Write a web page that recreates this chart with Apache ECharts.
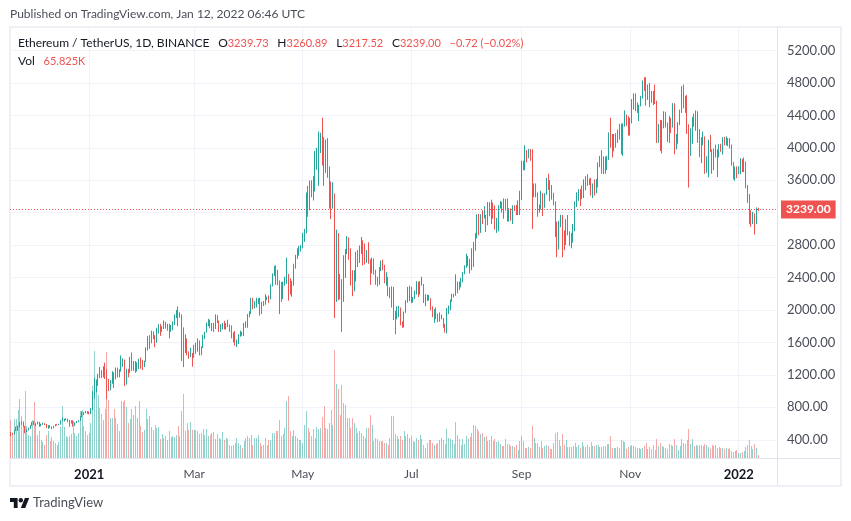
<!DOCTYPE html>
<html>
<head>
<meta charset="utf-8">
<title>ETHUSDT</title>
<script src="https://cdn.jsdelivr.net/npm/echarts@6/dist/echarts.min.js"></script>
<style>
html, body { margin: 0; padding: 0; background: #fff; }
#chart { width: 851px; height: 521px; }
</style>
</head>
<body>
<div id="chart"></div>
<script>
// daily candles, 18 Nov 2020 to 12 Jan 2022, one line per month
var opens = [
    479,472,471,509,549,558,609,604,566,517,518,537,575,
    616,588,598,616,569,596,601,591,555,573,559,545,568,590,586,589,636,642,654,659,639,609,634,584,612,626,635,682,731,731,751,
    737,729,774,975,1040,1100,1208,1225,1224,1281,1262,1090,1043,1130,1218,1171,1233,1230,1257,1377,1382,1120,1235,1233,1391,1324,1357,1248,1332,1382,1378,
    1312,1369,1515,1660,1594,1719,1677,1614,1750,1769,1743,1784,1843,1813,1782,1781,1783,1846,1937,1960,1919,1935,1780,1570,1626,1475,1446,1459,
    1417,1565,1492,1575,1541,1533,1654,1723,1835,1868,1799,1826,1772,1924,1854,1791,1806,1823,1782,1811,1806,1782,1668,1668,1582,1586,1699,1716,1691,1819,1846,
    1919,1977,2143,2028,2093,2107,2112,1963,2085,2071,2135,2157,2139,2299,2432,2514,2422,2355,2236,2161,2336,2364,2397,2364,2210,2316,2534,2662,2746,2756,
    2772,2945,2950,3431,3240,3523,3490,3484,3902,3928,3952,4168,3815,3720,4079,3640,3585,3276,3384,2460,2775,2430,2295,2100,2640,2708,2887,2737,2414,2280,2389,
    2706,2634,2706,2855,2687,2626,2715,2590,2514,2610,2474,2354,2372,2509,2590,2550,2365,2374,2225,2162,2245,1888,1875,1970,1990,1830,1815,1975,2085,2160,
    2275,2110,2150,2225,2325,2200,2324,2315,2115,2150,2137,2140,2035,1940,1995,1912,1875,1895,1895,1786,1724,1992,2027,2123,2188,2190,2222,2300,2297,2380,2462,
    2536,2558,2609,2506,2725,2827,2890,3157,3012,3163,3140,3164,3045,3322,3265,3310,3147,3012,3017,3286,3322,3243,3320,3223,3173,3226,3147,3275,3245,3225,3229,
    3433,3835,3788,3940,3887,3955,3950,3430,3496,3427,3209,3265,3410,3285,3430,3613,3570,3398,3432,3331,2977,2750,3078,3155,2928,2925,3063,2930,2805,2849,
    3000,3309,3390,3417,3380,3515,3577,3587,3560,3575,3415,3545,3497,3603,3790,3867,3830,3847,3745,3877,4155,4055,3970,4170,4080,4217,4130,3922,4285,4417,4322,
    4288,4320,4585,4600,4530,4474,4518,4610,4810,4730,4630,4720,4667,4648,4625,4570,4210,4285,3960,4290,4410,4267,4085,4340,4270,4520,4040,4095,4295,4445,
    4632,4585,4510,4240,4100,4200,4355,4310,4430,4110,3890,4085,4135,3785,3860,4020,3960,3880,3960,3925,3940,4020,3980,4110,4045,4095,4065,4035,3795,3630,3712,
    3680,3765,3830,3760,3785,3535,3410,3195,3105,3155,3085,3239.73
];
var closes = [
    472,471,509,549,558,609,604,566,517,518,537,575,616,
    588,598,616,569,596,601,591,555,573,559,545,568,590,586,589,636,642,654,659,639,609,634,584,612,626,635,682,731,731,751,737,
    729,774,975,1040,1100,1208,1225,1224,1281,1262,1090,1043,1130,1218,1171,1233,1230,1257,1377,1382,1120,1235,1233,1391,1324,1357,1248,1332,1382,1378,1312,
    1369,1515,1660,1594,1719,1677,1614,1750,1769,1743,1784,1843,1813,1782,1781,1783,1846,1937,1960,1919,1935,1780,1570,1626,1475,1446,1459,1417,
    1565,1492,1575,1541,1533,1654,1723,1835,1868,1799,1826,1772,1924,1854,1791,1806,1823,1782,1811,1806,1782,1668,1668,1582,1586,1699,1716,1691,1819,1846,1919,
    1977,2143,2028,2093,2107,2112,1963,2085,2071,2135,2157,2139,2299,2432,2514,2422,2355,2236,2161,2336,2364,2397,2364,2210,2316,2534,2662,2746,2756,2772,
    2945,2950,3431,3240,3523,3490,3484,3902,3928,3952,4168,3815,3720,4079,3640,3585,3276,3384,2460,2775,2430,2295,2100,2640,2708,2887,2737,2414,2280,2389,2706,
    2634,2706,2855,2687,2626,2715,2590,2514,2610,2474,2354,2372,2509,2590,2550,2365,2374,2225,2162,2245,1888,1875,1970,1990,1830,1815,1975,2085,2160,2275,
    2110,2150,2225,2325,2200,2324,2315,2115,2150,2137,2140,2035,1940,1995,1912,1875,1895,1895,1786,1724,1992,2027,2123,2188,2190,2222,2300,2297,2380,2462,2536,
    2558,2609,2506,2725,2827,2890,3157,3012,3163,3140,3164,3045,3322,3265,3310,3147,3012,3017,3286,3322,3243,3320,3223,3173,3226,3147,3275,3245,3225,3229,3433,
    3835,3788,3940,3887,3955,3950,3430,3496,3427,3209,3265,3410,3285,3430,3613,3570,3398,3432,3331,2977,2750,3078,3155,2928,2925,3063,2930,2805,2849,3000,
    3309,3390,3417,3380,3515,3577,3587,3560,3575,3415,3545,3497,3603,3790,3867,3830,3847,3745,3877,4155,4055,3970,4170,4080,4217,4130,3922,4285,4417,4322,4288,
    4320,4585,4600,4530,4474,4518,4610,4810,4730,4630,4720,4667,4648,4625,4570,4210,4285,3960,4290,4410,4267,4085,4340,4270,4520,4040,4095,4295,4445,4632,
    4585,4510,4240,4100,4200,4355,4310,4430,4110,3890,4085,4135,3785,3860,4020,3960,3880,3960,3925,3940,4020,3980,4110,4045,4095,4065,4035,3795,3630,3712,3680,
    3765,3830,3760,3785,3535,3410,3195,3105,3155,3085,3239.73,3239
];
var lows = [
    444,455,468,505,510,553,585,558,480,495,515,535,570,
    580,570,590,560,565,585,580,545,535,545,530,540,565,575,580,586,625,625,640,620,560,600,560,570,605,620,630,675,705,725,720,
    714,716,765,905,985,1065,1160,1160,1170,1150,900,1000,1010,1090,1040,1145,1170,1170,1240,1300,1060,1080,1170,1225,1250,1250,1225,1240,1270,1275,1260,
    1295,1360,1500,1520,1590,1640,1540,1595,1710,1680,1730,1765,1770,1745,1650,1730,1750,1815,1900,1800,1905,1370,1295,1470,1440,1400,1420,1300,
    1410,1460,1485,1440,1440,1530,1640,1720,1800,1775,1740,1730,1765,1840,1730,1730,1760,1760,1760,1790,1730,1650,1600,1560,1545,1580,1670,1680,1680,1780,1780,
    1910,1950,2010,2020,2030,2075,1930,1950,2050,2065,2120,2085,2130,2290,2420,2310,2305,1950,2100,2135,2300,2320,2115,2190,2165,2300,2510,2630,2670,2720,
    2760,2840,2945,3150,3230,3390,3350,3460,3730,3530,3935,3780,3530,3690,3630,3250,3120,3250,1900,2100,2120,2130,1730,2100,2395,2690,2620,2300,2170,2230,2350,
    2530,2580,2690,2550,2560,2580,2570,2310,2450,2435,2310,2290,2310,2480,2490,2330,2300,2170,2145,2030,1875,1700,1885,1910,1810,1780,1785,1965,2090,2110,
    2085,2090,2135,2190,2160,2190,2300,2085,2045,2110,2115,1995,1910,1840,1885,1850,1855,1885,1780,1720,1710,1950,1995,2100,2155,2175,2205,2245,2280,2340,2440,
    2520,2540,2450,2490,2530,2730,2880,2920,2950,3060,3130,2960,3045,3155,3060,3125,2990,2950,2970,3250,3200,3125,3225,3090,3090,3100,3060,3220,3170,3170,3170,
    3355,3725,3720,3820,3870,3840,3000,3390,3390,3150,3200,3240,3160,3260,3420,3480,3340,3360,3290,2900,2650,2745,3020,2650,2740,2800,2920,2790,2760,2830,
    2970,3270,3345,3280,3370,3380,3475,3530,3540,3410,3380,3410,3440,3510,3760,3680,3675,3680,3725,3850,4000,3880,3955,4000,4060,4100,3920,3900,4260,4270,4150,
    4150,4300,4470,4450,4430,4330,4510,4605,4700,4520,4590,4500,4555,4525,4540,4060,4060,3960,3930,4240,4250,4070,4060,4180,4250,3920,3980,4050,4280,4430,
    4485,4430,4170,3510,3900,4050,4260,4210,4060,3885,3810,4030,3680,3690,3635,3950,3680,3725,3880,3640,3880,3950,3915,4030,4030,4020,3990,3780,3610,3595,3625,
    3675,3675,3700,3700,3500,3320,3060,3025,3060,2930,3060,3217.52
];
var highs = [
    495,486,515,562,575,620,625,620,570,530,548,580,620,
    632,600,625,622,598,610,607,595,580,580,563,570,592,595,595,640,675,660,665,660,645,640,640,615,630,640,690,750,740,755,755,
    749,790,1000,1165,1135,1215,1295,1260,1305,1350,1270,1150,1135,1245,1230,1290,1290,1270,1440,1405,1390,1275,1275,1420,1475,1370,1370,1355,1400,1415,1385,
    1375,1540,1680,1690,1745,1735,1690,1780,1825,1830,1800,1870,1855,1830,1830,1815,1860,1945,2000,2045,1970,1945,1785,1700,1650,1490,1535,1470,
    1570,1600,1650,1625,1550,1695,1730,1845,1890,1880,1840,1840,1945,1935,1870,1825,1840,1865,1840,1880,1820,1810,1725,1740,1635,1700,1745,1730,1840,1860,1950,
    1985,2150,2150,2110,2150,2145,2150,2100,2110,2195,2165,2180,2315,2450,2545,2550,2495,2365,2345,2350,2410,2645,2445,2390,2360,2570,2680,2760,2790,2800,
    2950,3000,3450,3530,3595,3600,3650,3960,4000,4200,4185,4370,4130,4100,4120,3770,3585,3575,3435,2990,2950,2445,2380,2675,2750,2910,2895,2760,2490,2490,2715,
    2740,2795,2900,2860,2820,2740,2835,2625,2645,2635,2495,2410,2530,2610,2620,2555,2465,2410,2280,2290,2285,1990,2045,2050,2030,1860,1980,2120,2285,2300,
    2285,2160,2240,2355,2350,2355,2410,2320,2195,2190,2185,2145,2045,2010,2030,1955,1970,1945,1900,1830,2025,2055,2130,2200,2200,2440,2350,2350,2395,2470,2550,
    2695,2665,2630,2760,2840,2950,3180,3185,3180,3230,3280,3170,3330,3330,3360,3325,3290,3135,3290,3345,3335,3375,3370,3375,3255,3252,3290,3290,3295,3350,3470,
    3840,3840,4030,3970,3985,3985,3980,3560,3560,3450,3300,3470,3440,3440,3630,3680,3600,3540,3445,3340,3090,3100,3175,3170,2980,3120,3170,2970,2950,3060,
    3340,3450,3490,3490,3535,3610,3650,3675,3620,3630,3560,3610,3615,3820,3900,3970,3895,3890,3900,4190,4370,4170,4170,4180,4225,4295,4300,4300,4460,4410,4390,
    4370,4600,4670,4670,4560,4530,4640,4830,4870,4870,4780,4800,4700,4700,4780,4580,4295,4345,4340,4450,4445,4310,4390,4370,4550,4550,4170,4315,4470,4760,
    4780,4640,4650,4290,4240,4380,4420,4460,4450,4230,4130,4200,4140,3895,4100,4160,3980,3990,4040,3980,4045,4050,4130,4135,4140,4120,4120,4040,3825,3770,3770,
    3770,3870,3860,3880,3830,3540,3430,3230,3210,3190,3265,3260.89
];
// volume in thousands of ETH
var volumes = [
    760,440,780,780,960,1180,840,740,1340,640,460,440,760,
    1120,720,460,540,360,320,260,460,540,340,420,340,300,260,320,620,1040,620,440,420,440,480,740,500,440,500,940,960,640,540,460,
    500,700,1440,2140,1580,1260,1000,880,760,980,2120,1160,800,800,980,800,680,540,1140,1120,1160,1020,700,780,980,860,1040,800,1140,640,520,
    560,980,780,840,620,560,660,600,620,380,480,400,440,360,540,420,440,420,460,640,440,940,1280,540,700,560,720,560,
    560,560,540,480,500,580,460,580,440,460,500,520,380,480,400,380,520,360,400,380,260,240,260,300,400,300,260,200,340,400,440,
    400,460,260,400,400,460,300,240,260,400,260,360,360,500,500,540,540,760,440,480,600,1140,1240,540,440,560,440,400,360,360,
    300,660,940,600,520,440,580,400,620,580,600,820,1040,600,580,700,960,660,2160,1480,1380,860,1460,1100,1060,800,800,600,800,700,600,
    500,540,500,440,400,600,600,860,660,340,400,380,340,340,340,300,300,260,400,840,840,480,440,380,440,360,540,440,480,400,
    440,340,320,400,360,460,380,260,200,300,360,360,300,260,280,300,360,400,360,280,580,400,380,360,280,720,460,380,260,380,280,
    440,380,420,500,660,640,580,540,480,500,420,440,340,360,440,340,380,320,340,280,240,240,380,280,280,240,240,220,260,160,340,
    440,340,200,200,220,200,640,400,300,300,220,340,200,240,260,240,180,180,300,500,520,360,240,480,260,360,220,220,220,240,
    300,220,260,200,320,240,220,260,220,320,240,240,260,260,220,220,240,240,280,280,440,200,200,200,220,200,360,340,320,180,220,
    240,260,240,220,200,200,180,200,240,300,180,220,180,260,160,380,240,300,240,220,200,180,280,260,240,380,260,160,240,380,
    300,280,360,580,280,380,240,260,240,260,260,240,280,260,220,180,260,240,260,200,220,200,200,180,200,180,200,140,120,140,160,
    100,100,120,140,220,260,360,240,180,280,200,65.825
];
var priceTicks = [400, 800, 1200, 1600, 2000, 2400, 2800, 3200, 3600, 4000, 4400, 4800, 5200];
var tickDates = ['2021-01-01', '2021-03-01', '2021-05-01', '2021-07-01', '2021-09-01', '2021-11-01', '2022-01-01'];
var tickLabels = ['{year|2021}', 'Mar', 'May', 'Jul', 'Sep', 'Nov', '{year|2022}'];
var blankSlots = 10;  // empty days right of the last candle
var lastPrice = 3239;

var upColor = '#26a69a';
var downColor = '#ef5350';
var uiFont = 'Lato';

// dates for the category axis
var dates = [];
for (var d = 0; d < opens.length + blankSlots; d++) {
    dates.push(new Date(Date.UTC(2020, 10, 18 + d)).toISOString().slice(0, 10));
}

var candleData = [];
var volumeData = [];
for (var i = 0; i < opens.length; i++) {
    candleData.push([opens[i], closes[i], lows[i], highs[i]]);
    volumeData.push([i, volumes[i], closes[i] >= opens[i] ? 1 : -1]);
}

var myChart = echarts.init(document.getElementById('chart'));

var isTick = function (index, value) {
    return tickDates.indexOf(value) !== -1;
};

// volume bars snapped to whole pixels, plain bars blur at this density
var renderVolume = function (params, api) {
    var top = api.coord([api.value(0), api.value(1)]);
    var bottom = api.coord([api.value(0), 0]);
    var x = Math.floor(top[0]);
    var y = Math.round(top[1]);
    return {
        type: 'rect',
        shape: {x: x, y: y, width: 1, height: Math.round(bottom[1]) - y},
        style: {fill: api.value(2) > 0 ? 'rgba(38,166,154,0.5)' : 'rgba(239,83,80,0.5)'}
    };
};

var legendRich = {
    k: {fontSize: 12, fontWeight: 'normal', color: '#131722', fontFamily: uiFont},
    v: {fontSize: 11, fontWeight: 'normal', color: downColor, fontFamily: uiFont}
};

var option = {
    animation: false,
    backgroundColor: '#ffffff',
    textStyle: {fontFamily: uiFont},
    title: [
        {
            text: 'Published on TradingView.com, Jan 12, 2022 06:46 UTC',
            left: 10, top: 8, padding: 0,
            textStyle: {fontSize: 12, fontWeight: 'normal', color: '#4a4e59', fontFamily: uiFont}
        },
        {
            text: '{k|Ethereum / TetherUS, 1D, BINANCE}  {k|O}{v|3239.73}  {k|H}{v|3260.89}  {k|L}{v|3217.52}  {k|C}{v|3239.00}  {v|\u22120.72 (\u22120.02%)}',
            left: 18, top: 34, padding: 0,
            textStyle: {rich: legendRich}
        },
        {
            text: '{k|Vol}  {v|65.825K}',
            left: 18, top: 52, padding: 0,
            textStyle: {rich: legendRich}
        },
        {
            text: 'TradingView',
            left: 33, top: 496, padding: 0,
            textStyle: {fontSize: 13, fontWeight: 'normal', color: '#4a4e59', fontFamily: uiFont}
        }
    ],
    grid: {left: 10, right: 74, top: 27, bottom: 63},
    xAxis: {
        type: 'category',
        data: dates,
        boundaryGap: true,
        axisLine: {show: false},
        axisTick: {show: false},
        axisLabel: {
            interval: isTick,
            margin: 10,
            fontSize: 12,
            color: '#4a4e59',
            fontFamily: uiFont,
            formatter: function (value) {
                var k = tickDates.indexOf(value);
                return k === -1 ? '' : tickLabels[k];
            },
            rich: {year: {fontSize: 13, fontWeight: 'bold', color: '#131722', fontFamily: uiFont}}
        },
        splitLine: {show: true, interval: isTick, alignWithLabel: true, lineStyle: {color: '#f0f3fa', width: 1}}
    },
    yAxis: [
        {
            type: 'value',
            position: 'right',
            min: 175,
            max: 5489,
            axisLine: {show: false},
            axisTick: {show: false, customValues: priceTicks},
            axisLabel: {
                customValues: priceTicks,
                margin: 10,
                fontSize: 13,
                color: '#4a4e59',
                fontFamily: uiFont,
                formatter: function (v) { return v.toFixed(2); }
            },
            splitLine: {show: true, lineStyle: {color: '#f0f3fa', width: 1}}
        },
        {
            // volume sits on its own hidden scale
            type: 'value',
            min: 0,
            max: 8620,
            show: false,
            splitLine: {show: false}
        }
    ],
    series: [
        {
            name: 'Vol',
            type: 'custom',
            yAxisIndex: 1,
            renderItem: renderVolume,
            encode: {x: 0, y: 1},
            z: 1,
            data: volumeData
        },
        {
            name: 'ETHUSDT',
            type: 'candlestick',
            yAxisIndex: 0,
            barWidth: 0.6,
            large: false,
            z: 2,
            itemStyle: {
                color: upColor,
                color0: downColor,
                borderColor: upColor,
                borderColor0: downColor,
                borderWidth: 1
            },
            data: candleData,
            markLine: {
                silent: true,
                symbol: 'none',
                precision: 2,
                lineStyle: {color: downColor, type: [1, 2], width: 1},
                label: {
                    position: 'end',
                    distance: 4,
                    formatter: lastPrice.toFixed(2),
                    color: '#ffffff',
                    backgroundColor: downColor,
                    padding: [3, 5, 3, 5],
                    fontSize: 12,
                    fontWeight: 'bold',
                    fontFamily: uiFont
                },
                data: [{yAxis: lastPrice}]
            }
        }
    ],
    graphic: [
        {type: 'rect', silent: true, z: 0, shape: {x: 10, y: 27, width: 831, height: 459}, style: {fill: 'none', stroke: '#eef0f5', lineWidth: 2}},
        {type: 'line', silent: true, shape: {x1: 777.5, y1: 27, x2: 777.5, y2: 485}, style: {stroke: '#e0e3eb', lineWidth: 1}},
        {type: 'line', silent: true, shape: {x1: 10, y1: 458.5, x2: 840, y2: 458.5}, style: {stroke: '#e0e3eb', lineWidth: 1}},
        // TradingView mark
        {type: 'polygon', silent: true, shape: {points: [[10, 498], [17.6, 498], [17.6, 508], [13.8, 508], [13.8, 501.9], [10, 501.9]]}, style: {fill: '#131722'}},
        {type: 'polygon', silent: true, shape: {points: [[24.9, 498], [29.2, 498], [25.2, 508], [20.8, 508]]}, style: {fill: '#131722'}},
        {type: 'circle', silent: true, shape: {cx: 20.8, cy: 500.2, r: 2.2}, style: {fill: '#131722'}}
    ]
};

myChart.setOption(option);
window.addEventListener('resize', myChart.resize);
</script>
</body>
</html>
